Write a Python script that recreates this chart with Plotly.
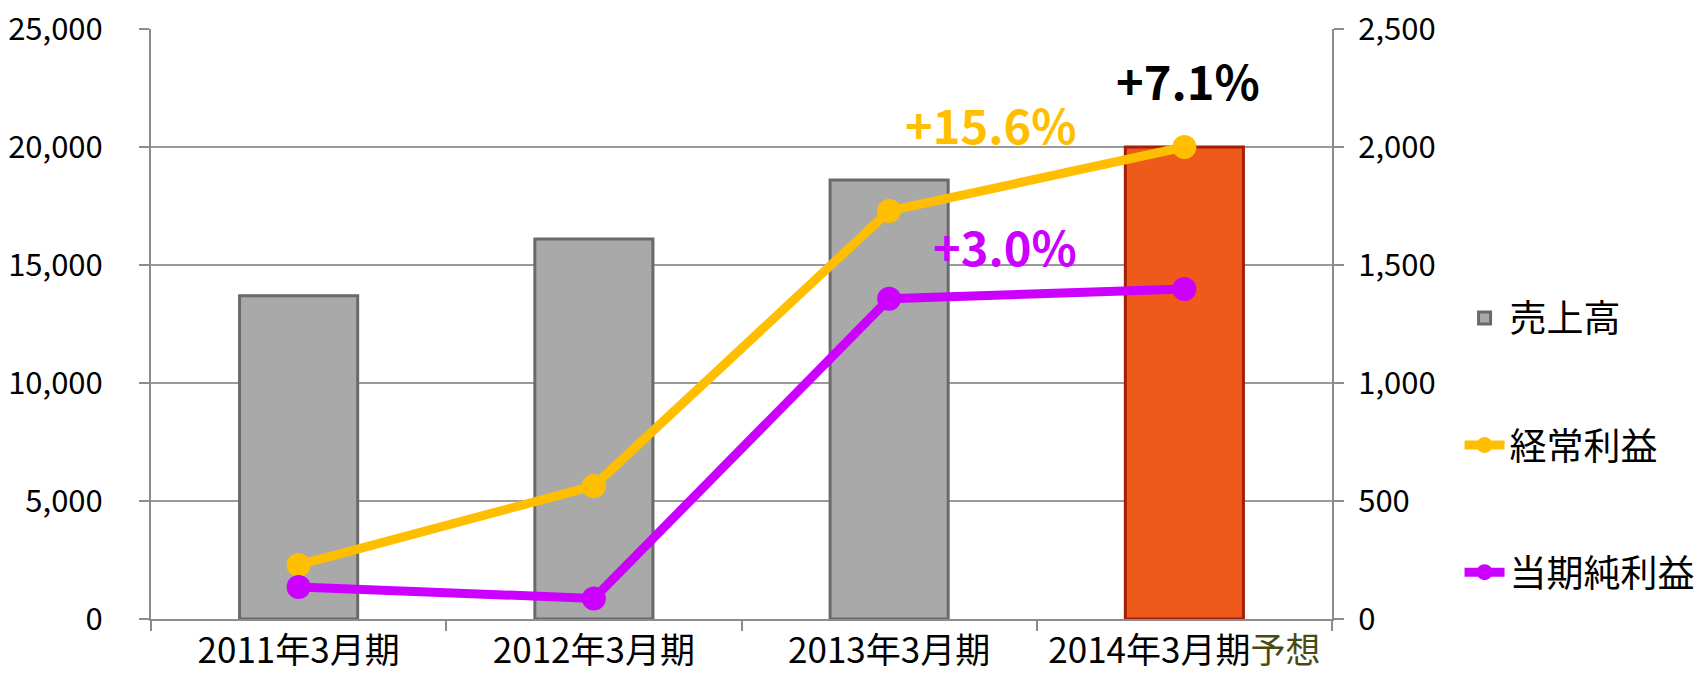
import plotly.graph_objects as go

categories = ["2011年3月期", "2012年3月期", "2013年3月期", "2014年3月期予想"]
tick_labels = ["2011年3月期", "2012年3月期", "2013年3月期",
               '2014年3月期<span style="color:#4A4A10">予想</span>']
sales = [13700, 16100, 18600, 20000]          # 売上高 (left axis)
ordinary_profit = [229, 564, 1729, 2000]      # 経常利益 (right axis)
net_profit = [136, 87, 1357, 1398]            # 当期純利益 (right axis)
growth_labels = ["+7.1%", "+15.6%", "+3.0%"]

FONT = "Noto Sans CJK JP"
bar_colors = ["#A9A9A9", "#A9A9A9", "#A9A9A9", "#EE5A1A"]
bar_lines = ["#6A6A6A", "#6A6A6A", "#6A6A6A", "#A0200A"]

fig = go.Figure()
fig.add_trace(go.Bar(
    x=categories, y=sales, name="売上高", width=0.40,
    marker=dict(color=bar_colors, line=dict(color=bar_lines, width=3)),
    legendgroup="a", yaxis="y",
))
fig.add_trace(go.Scatter(
    x=categories, y=ordinary_profit, name="経常利益", mode="lines+markers",
    line=dict(color="#FFBF00", width=9), marker=dict(size=24, color="#FFBF00"),
    legendgroup="b", yaxis="y2",
))
fig.add_trace(go.Scatter(
    x=categories, y=net_profit, name="当期純利益", mode="lines+markers",
    line=dict(color="#CC00FF", width=9), marker=dict(size=24, color="#CC00FF"),
    legendgroup="c", yaxis="y2",
))

# growth annotations anchored to data points
fig.add_annotation(x=categories[3], y=ordinary_profit[3], yref="y2", text=growth_labels[0],
                   showarrow=False, yshift=68, xshift=4,
                   font=dict(family=FONT, size=47, color="#000000", weight="bold"))
fig.add_annotation(x=categories[2], y=ordinary_profit[2], yref="y2", text=growth_labels[1],
                   showarrow=False, yshift=87, xshift=101,
                   font=dict(family=FONT, size=47, color="#FFBF00", weight="bold"))
fig.add_annotation(x=categories[2], y=net_profit[2], yref="y2", text=growth_labels[2],
                   showarrow=False, yshift=53, xshift=116,
                   font=dict(family=FONT, size=47, color="#CC00FF", weight="bold"))

fig.update_layout(
    width=1697, height=684,
    margin=dict(l=151, r=365, t=29, b=65, autoexpand=False),
    paper_bgcolor="white", plot_bgcolor="white",
    font=dict(family=FONT, size=30, color="#000000"),
    bargap=0.6,
    xaxis=dict(
        tickmode="array", tickvals=categories, ticktext=tick_labels,
        showline=True, linecolor="#8C8C8C", linewidth=2,
        ticks="outside", tickson="boundaries", ticklen=10, tickcolor="#8C8C8C", tickwidth=2,
        showgrid=False, tickfont=dict(size=35), automargin=False,
        ticklabeloverflow="allow",
    ),
    yaxis=dict(
        range=[0, 25000], dtick=5000, tickformat=",",
        showline=True, linecolor="#8C8C8C", linewidth=2,
        ticks="outside", ticklen=10, tickcolor="#8C8C8C", tickwidth=2,
        showgrid=True, gridcolor="#9A9A9A", gridwidth=2, zeroline=False,
        tickfont=dict(size=31), ticklabelstandoff=30, automargin=False,
        ticklabeloverflow="allow",
    ),
    yaxis2=dict(
        range=[0, 2500], dtick=500, tickformat=",", overlaying="y", side="right",
        showline=True, linecolor="#8C8C8C", linewidth=2,
        ticks="outside", ticklen=10, tickcolor="#8C8C8C", tickwidth=2,
        showgrid=False, zeroline=False, tickfont=dict(size=31),
        ticklabelstandoff=8, automargin=False, ticklabeloverflow="allow",
    ),
    legend=dict(
        x=1.108, xanchor="left", y=0.562, yanchor="top",
        font=dict(size=37), tracegroupgap=76, itemwidth=40,
        bgcolor="rgba(0,0,0,0)",
    ),
    showlegend=True,
)

fig.write_html("out.html", config={"displayModeBar": False},
               post_script="document.body.style.margin='0px';document.body.style.overflow='hidden';")
